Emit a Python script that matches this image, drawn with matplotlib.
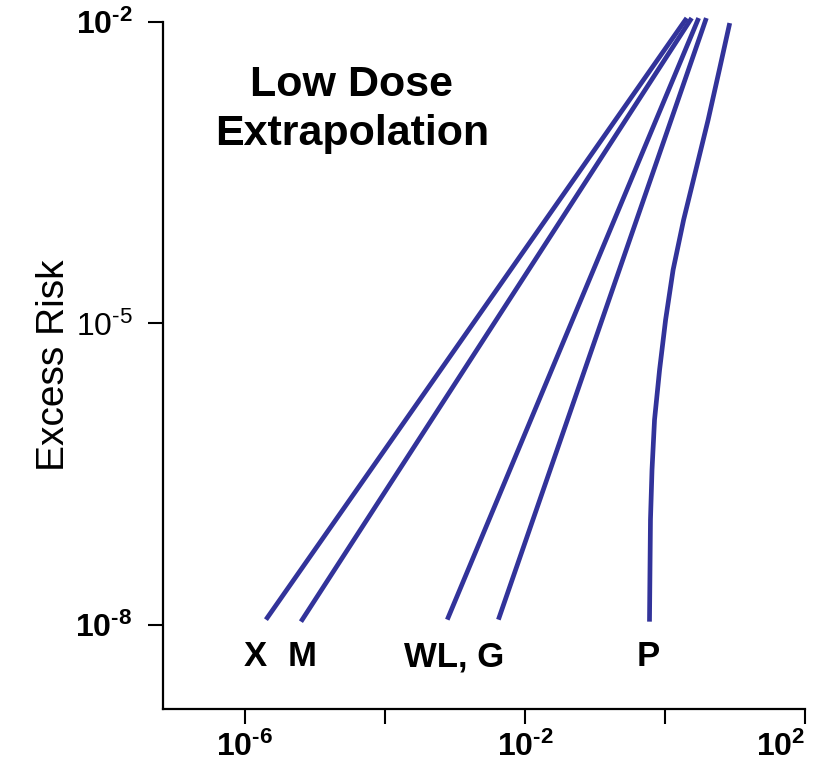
import numpy as np
import matplotlib
matplotlib.use("Agg")
import matplotlib.pyplot as plt
from matplotlib.ticker import FixedLocator, FixedFormatter, NullLocator

plt.rcParams['font.family'] = ['Liberation Sans', 'DejaVu Sans']
plt.rcParams['mathtext.fontset'] = 'custom'
plt.rcParams['mathtext.rm'] = 'Liberation Sans'
plt.rcParams['mathtext.bf'] = 'Liberation Sans:bold'
plt.rcParams['mathtext.default'] = 'regular'

# model curves, log10(dose) vs log10(excess risk)
models = ['X', 'M', 'WL', 'G', 'P']
log_dose = {
	'X':  [-5.70, 0.31],
	'M':  [-5.20, 0.38],
	'WL': [-3.11, 0.48],
	'G':  [-2.38, 0.59],
	'P':  [-0.222, -0.215, -0.208, -0.186, -0.150, -0.078, 0.008,
		0.115, 0.265, 0.440, 0.615, 0.775, 0.924],
}
log_risk = {
	'X':  [-7.95, -1.96],
	'M':  [-7.97, -1.96],
	'WL': [-7.95, -1.96],
	'G':  [-7.95, -1.96],
	'P':  [-7.970, -7.453, -6.955, -6.458, -5.960, -5.463, -4.965,
		-4.468, -3.970, -3.473, -2.975, -2.478, -2.010],
}

x_ticks = [1e-6, 1e-4, 1e-2, 1e0, 1e2]
x_tick_labels = [r'$\mathbf{10^{‐6}}$', '', r'$\mathbf{10^{‐2}}$', '', r'$\mathbf{10^{2}}$']
y_ticks = [1e-8, 1e-5, 1e-2]
y_tick_labels = [r'$\mathbf{10^{‐8}}$', r'$10^{‐5}$', r'$\mathbf{10^{‐2}}$']

line_color = '#32339a'

fig = plt.figure(figsize=(8.36, 7.61), dpi=100)
ax = fig.add_axes([0.195, 0.0683, 0.768, 0.9027])

for m in models:
	ax.plot(np.power(10.0, log_dose[m]), np.power(10.0, log_risk[m]),
		color=line_color, lw=3.4, solid_capstyle='butt', clip_on=False)

ax.set_xscale('log')
ax.set_yscale('log')
ax.set_xlim(10 ** -7.17, 10 ** 2.0)
ax.set_ylim(10 ** -8.84, 10 ** -2.0)

ax.xaxis.set_major_locator(FixedLocator(x_ticks))
ax.xaxis.set_major_formatter(FixedFormatter(x_tick_labels))
ax.xaxis.set_minor_locator(NullLocator())
ax.yaxis.set_major_locator(FixedLocator(y_ticks))
ax.yaxis.set_major_formatter(FixedFormatter(y_tick_labels))
ax.yaxis.set_minor_locator(NullLocator())

ax.tick_params(axis='x', length=11, width=1.5, pad=5, labelsize=23)
ax.tick_params(axis='y', length=11, width=1.5, pad=11, labelsize=23)

# last x label sits flush with the end of the axis
fig.canvas.draw()
ax.get_xticklabels()[-1].set_horizontalalignment('right')

for s in ['top', 'right']:
	ax.spines[s].set_visible(False)
for s in ['left', 'bottom']:
	ax.spines[s].set_linewidth(1.6)

ax.set_ylabel('Excess Risk', fontsize=28, labelpad=2)

# curve names under the lines
ax.text(10 ** -5.85, 10 ** -8.32, 'X', fontsize=25, fontweight='bold', ha='center', va='center')
ax.text(10 ** -5.18, 10 ** -8.32, 'M', fontsize=25, fontweight='bold', ha='center', va='center')
ax.text(10 ** -3.01, 10 ** -8.32, 'WL, G', fontsize=25, fontweight='bold', ha='center', va='center')
ax.text(10 ** -0.235, 10 ** -8.32, 'P', fontsize=25, fontweight='bold', ha='center', va='center')

ax.text(0.294, 0.873, 'Low Dose\nExtrapolation', transform=ax.transAxes,
	fontsize=31, fontweight='bold', ha='center', va='center', linespacing=1.3)

fig.savefig('out.png', dpi=100)
